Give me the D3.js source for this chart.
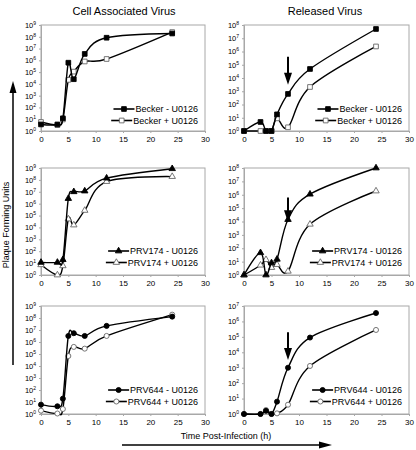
<!DOCTYPE html>
<html><head><meta charset="utf-8">
<script src="https://cdn.jsdelivr.net/npm/d3@7"></script>
<style>
body{margin:0;background:#fff}
svg{display:block}
text{font-family:"Liberation Sans",Arial,Helvetica,sans-serif;fill:#000}
</style>
</head><body><svg id="c" width="416" height="450"></svg>
<script>
// ---------------- data ----------------
const times = [0, 3, 4, 5, 6, 8, 12, 24];
const xTicks = [0, 5, 10, 15, 20, 25, 30];
const columnTitles = ["Cell Associated Virus", "Released Virus"];
const yAxisTitle = "Plaque Forming Units";
const xAxisTitle = "Time Post-Infection (h)";

const beckerCellMinus  = [3.6, 3.6, 12, 6.3e5, 2.5e4, 3.5e6, 8.3e7, 1.9e8];
const beckerCellPlus   = [5.8, 3.2, 9.5, 2.2e4, 1.1e5, 8e5, 1.3e6, 2.5e8];
const beckerRelMinus   = [1, 4.8, 1, 1, 18, 630, 4.8e4, 5e7];
const beckerRelPlus    = [1, 1, 1, 1, 9, 1.9, 2.1e3, 2.4e6];
const prv174CellMinus  = [11.5, 11.5, 19.5, 2.7e6, 1e7, 1.15e7, 1.4e8, 8.7e8];
const prv174CellPlus   = [7.2, 1, 5.9, 5.1e4, 1.6e4, 2.7e5, 7.2e7, 1.9e8];
const prv174RelMinus   = [1, 46, 1, 8, 15, 1.4e4, 1.1e6, 1e8];
const prv174RelPlus    = [1, 5.4, 14, 3.6, 6, 1.9, 6.2e3, 1.9e6];
const prv644CellMinus  = [6, 4.4, 19, 3.2e6, 5.4e6, 3.2e6, 2.2e7, 1.3e8];
const prv644CellPlus   = [1.9, 1.1, 2.6, 6.8e4, 3.9e5, 2.8e5, 3.2e6, 1.9e8];
const prv644RelMinus   = [1, 1, 1.6, 1, 6.3, 1e3, 9e4, 3.5e6];
const prv644RelPlus    = [1, 1, 1.8, 1, 1.1, 4, 1.3e3, 2.8e5];

const strains = ["Becker", "PRV174", "PRV644"];
const yMaxExp = [[9, 8], [9, 8], [9, 7]];            // top decade of each panel
const arrowTime = 8;                                  // arrow marks 8 h in released panels
const arrowFrom = [5.6, 5.8, 5.3];                    // log10 of arrow tail
const arrowTo   = [3.5, 3.95, 3.5];                   // log10 of arrow tip

const panelSeries = [
  [[beckerCellMinus, beckerCellPlus], [beckerRelMinus, beckerRelPlus]],
  [[prv174CellMinus, prv174CellPlus], [prv174RelMinus, prv174RelPlus]],
  [[prv644CellMinus, prv644CellPlus], [prv644RelMinus, prv644RelPlus]]
];
const markerShapes = [d3.symbolSquare, d3.symbolTriangle, d3.symbolCircle];
const markerSizes = [22, 18, 20];

// ---------------- layout ----------------
const svg = d3.select("#c");
const colX = [[41, 205], [244, 409]];
const rowY = [[25, 131], [168, 275], [306, 414]];
const frameColor = "#a8a8a8";

columnTitles.forEach((t, i) => {
  svg.append("text").attr("x", i === 0 ? 124 : 325).attr("y", 15)
    .attr("text-anchor", "middle").attr("font-size", 11).text(t);
});

function supLabel(sel, e) {
  sel.append("tspan").text("10");
  sel.append("tspan").attr("dy", -3).attr("font-size", 5).text(e);
}

strains.forEach((strain, r) => {
  for (let c = 0; c < 2; c++) {
    const [x0, x1] = colX[c];
    const [yt, yb] = rowY[r];
    const maxE = yMaxExp[r][c];
    const x = d3.scaleLinear().domain([0, 30]).range([x0, x1]);
    const y = d3.scaleLog().domain([1, Math.pow(10, maxE)]).range([yb, yt]);
    const g = svg.append("g");

    g.append("rect").attr("x", x0).attr("y", yt).attr("width", x1 - x0).attr("height", yb - yt)
      .attr("fill", "none").attr("stroke", frameColor).attr("stroke-width", 1);

    const yTicks = d3.range(0, maxE + 1).map(e => Math.pow(10, e));
    const ya = g.append("g").attr("transform", `translate(${x0},0)`)
      .call(d3.axisLeft(y).tickValues(yTicks).tickSize(2).tickFormat(""));
    ya.select(".domain").attr("stroke", frameColor);
    ya.selectAll(".tick line").attr("stroke", frameColor);
    ya.selectAll(".tick").each(function(d) {
      const t = d3.select(this).append("text").attr("x", -5).attr("dy", "0.32em")
        .attr("text-anchor", "end").attr("font-size", 7.5).attr("fill", "#000");
      supLabel(t, Math.round(Math.log10(d)));
    });

    const xa = g.append("g").attr("transform", `translate(0,${yb})`)
      .call(d3.axisBottom(x).tickValues(xTicks).tickSize(2).tickPadding(3));
    xa.select(".domain").attr("stroke", frameColor);
    xa.selectAll(".tick line").attr("stroke", frameColor);
    xa.selectAll(".tick text").attr("font-size", 8).attr("font-family", "Liberation Sans, Arial, sans-serif");

    const [minus, plus] = panelSeries[r][c];
    const line = d3.line().x((d, i) => x(times[i])).y(d => y(d)).curve(d3.curveCardinal.tension(0));
    const sym = d3.symbol().type(markerShapes[r]).size(markerSizes[r]);
    [[plus, false], [minus, true]].forEach(([vals, filled]) => {
      g.append("path").attr("d", line(vals)).attr("fill", "none").attr("stroke", "#000").attr("stroke-width", 1.4);
      g.selectAll(null).data(vals).enter().append("path")
        .attr("transform", (d, i) => `translate(${x(times[i])},${y(d)})`)
        .attr("d", sym)
        .attr("fill", filled ? "#000" : "#fff")
        .attr("stroke", filled ? "#000" : "#666").attr("stroke-width", 0.9);
    });

    const labels = [strain + " - U0126", strain + " + U0126"];
    labels.forEach((lab, k) => {
      const ly = yb - (r === 0 ? 22 : 24) + k * 11.5;
      const t = g.append("text").attr("x", x1 - 7).attr("y", ly).attr("dy", "0.35em")
        .attr("text-anchor", "end").attr("font-size", 9).text(lab);
      const tx = x1 - 7 - t.node().getComputedTextLength();
      g.append("line").attr("x1", tx - 22).attr("x2", tx - 1).attr("y1", ly).attr("y2", ly)
        .attr("stroke", "#000").attr("stroke-width", 1.6);
      g.append("path").attr("transform", `translate(${tx - 11.5},${ly})`).attr("d", sym)
        .attr("fill", k === 0 ? "#000" : "#fff").attr("stroke", k === 0 ? "#000" : "#666").attr("stroke-width", 0.9);
    });

    if (c === 1) {
      const ax = x(arrowTime);
      const yTail = y(Math.pow(10, arrowFrom[r]));
      const yTip = y(Math.pow(10, arrowTo[r]));
      const headLen = 12, headW = 4;
      g.append("line").attr("x1", ax).attr("x2", ax).attr("y1", yTail).attr("y2", yTip - headLen + 1)
        .attr("stroke", "#000").attr("stroke-width", 2);
      g.append("path").attr("d", `M${ax - headW},${yTip - headLen}L${ax + headW},${yTip - headLen}L${ax},${yTip}Z`)
        .attr("fill", "#000");
    }
  }
});

svg.append("text").attr("transform", "translate(9,225) rotate(-90)")
  .attr("text-anchor", "middle").attr("font-size", 9).text(yAxisTitle);
svg.append("line").attr("x1", 13).attr("x2", 13).attr("y1", 365).attr("y2", 92)
  .attr("stroke", "#000").attr("stroke-width", 1.5);
svg.append("path").attr("d", "M9.5,93L16.5,93L13,81Z").attr("fill", "#000");

svg.append("text").attr("x", 226).attr("y", 439)
  .attr("text-anchor", "middle").attr("font-size", 9).text(xAxisTitle);
svg.append("line").attr("x1", 122).attr("x2", 320).attr("y1", 445).attr("y2", 445)
  .attr("stroke", "#000").attr("stroke-width", 1.5);
svg.append("path").attr("d", "M319,441.5L319,448.5L332,445Z").attr("fill", "#000");
</script>
</body></html>
